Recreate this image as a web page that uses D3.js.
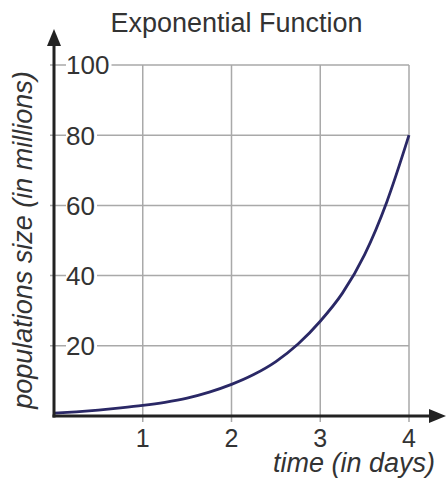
<!DOCTYPE html>
<html>
<head>
<meta charset="utf-8">
<script src="https://cdn.jsdelivr.net/npm/d3@7"></script>
<style>
  html, body { margin: 0; padding: 0; background: #fff; }
  svg { display: block; font-family: "Liberation Sans", Arial, sans-serif; }
</style>
</head>
<body>
<div class="chart"></div>
<script>
// values
const days = [0, 0.25, 0.5, 0.75, 1, 1.25, 1.5, 1.75, 2, 2.25, 2.5, 2.75, 3, 3.25, 3.5, 3.75, 4]
const population = [0.8, 1.2, 1.7, 2.3, 3, 3.9, 5.1, 6.8, 9, 11.8, 15.5, 20.5, 27, 35, 46, 61, 80]
const xTicks = [1, 2, 3, 4]
const yTicks = [20, 40, 60, 80, 100]

const width = 446
const height = 479

const svg = d3.select('.chart')
    .append('svg')
    .attr('width', width)
    .attr('height', height)

const x = d3.scaleLinear().domain([0, 4]).range([54, 409])
const y = d3.scaleLinear().domain([0, 100]).range([416, 65])

// grid
svg.append('g')
    .selectAll('line')
    .data(xTicks)
    .join('line')
    .attr('x1', d => x(d))
    .attr('x2', d => x(d))
    .attr('y1', y(100))
    .attr('y2', y(0) + 6)
    .attr('stroke', '#a9a9a9')
    .attr('stroke-width', 1.5)

svg.append('g')
    .selectAll('line')
    .data(yTicks)
    .join('line')
    .attr('x1', x(0) - 4)
    .attr('x2', x(4))
    .attr('y1', d => y(d))
    .attr('y2', d => y(d))
    .attr('stroke', '#a9a9a9')
    .attr('stroke-width', 1.5)

// y tick labels sit on the grid with a white patch behind
const yLab = svg.append('g')
    .selectAll('g')
    .data(yTicks)
    .join('g')
    .attr('transform', d => `translate(${x(0) + 12},${y(d)})`)

yLab.append('rect')
    .attr('x', 0)
    .attr('y', -12)
    .attr('width', d => String(d).length * 14.5 + 2)
    .attr('height', 24)
    .attr('fill', '#fff')

yLab.append('text')
    .attr('x', 0)
    .attr('dy', '0.36em')
    .attr('font-size', 26)
    .attr('fill', '#333')
    .text(d => d)

// x tick labels
svg.append('g')
    .selectAll('text')
    .data(xTicks)
    .join('text')
    .attr('x', d => x(d))
    .attr('y', 447)
    .attr('text-anchor', 'middle')
    .attr('font-size', 25)
    .attr('fill', '#333')
    .text(d => d)

// curve
const line = d3.line()
    .x((d, i) => x(days[i]))
    .y(d => y(d))
    .curve(d3.curveMonotoneX)

svg.append('path')
    .datum(population)
    .attr('d', line)
    .attr('fill', 'none')
    .attr('stroke', '#2a2866')
    .attr('stroke-width', 2.8)

// axes with arrows
const axisColor = '#222'
svg.append('line')
    .attr('x1', x(0))
    .attr('x2', x(0))
    .attr('y1', y(0) + 1.5)
    .attr('y2', 42)
    .attr('stroke', axisColor)
    .attr('stroke-width', 3)

svg.append('line')
    .attr('x1', x(0) - 1.5)
    .attr('x2', 433)
    .attr('y1', y(0))
    .attr('y2', y(0))
    .attr('stroke', axisColor)
    .attr('stroke-width', 3)

svg.append('path')
    .attr('d', `M${x(0)},29 L${x(0) - 7},46 L${x(0) + 7},46 Z`)
    .attr('fill', axisColor)

svg.append('path')
    .attr('d', `M446,${y(0)} L429,${y(0) - 7} L429,${y(0) + 7} Z`)
    .attr('fill', axisColor)

// titles
svg.append('text')
    .attr('x', 236.5)
    .attr('y', 32)
    .attr('text-anchor', 'middle')
    .attr('font-size', 27)
    .attr('fill', '#333')
    .text('Exponential Function')

svg.append('text')
    .attr('x', 435)
    .attr('y', 472)
    .attr('text-anchor', 'end')
    .attr('font-size', 27)
    .attr('font-style', 'italic')
    .attr('fill', '#333')
    .text('time (in days)')

svg.append('text')
    .attr('transform', 'translate(32,240) rotate(-90)')
    .attr('text-anchor', 'middle')
    .attr('font-size', 27)
    .attr('font-style', 'italic')
    .attr('fill', '#333')
    .text('populations size (in millions)')
</script>
</body>
</html>
